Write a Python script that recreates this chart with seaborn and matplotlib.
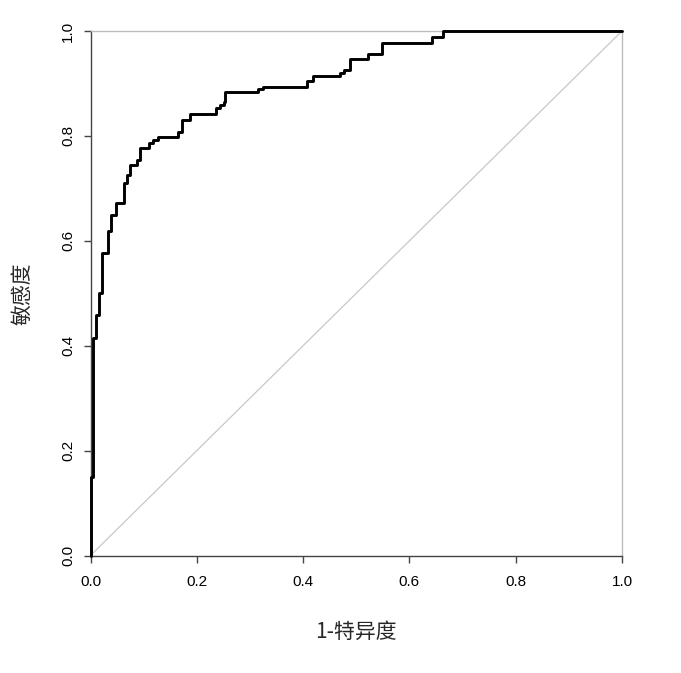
import matplotlib
matplotlib.use("Agg")
import matplotlib.pyplot as plt
import pandas as pd
import seaborn as sns

# ROC curve points (1-specificity, sensitivity)
fpr = [0.0, 0.0, 0.005, 0.010, 0.016, 0.021, 0.032, 0.038, 0.048, 0.063,
       0.069, 0.074, 0.087, 0.093, 0.111, 0.118, 0.127, 0.165, 0.172, 0.187,
       0.236, 0.244, 0.251, 0.253, 0.315, 0.324, 0.408, 0.418, 0.469, 0.477,
       0.488, 0.523, 0.548, 0.642, 0.664, 1.0]
tpr = [0.0, 0.149, 0.414, 0.459, 0.501, 0.577, 0.619, 0.650, 0.672, 0.711,
       0.725, 0.745, 0.754, 0.776, 0.787, 0.792, 0.798, 0.808, 0.830, 0.841,
       0.853, 0.859, 0.865, 0.884, 0.889, 0.894, 0.904, 0.914, 0.920, 0.926,
       0.947, 0.957, 0.977, 0.989, 1.0, 1.0]
ticks = [0.0, 0.2, 0.4, 0.6, 0.8, 1.0]
tick_labels = ["0.0", "0.2", "0.4", "0.6", "0.8", "1.0"]

sns.set_style("ticks")
plt.rcParams["font.family"] = ["Liberation Sans Narrow", "Liberation Sans", "DejaVu Sans"]

df = pd.DataFrame({"fpr": fpr, "tpr": tpr})

fig = plt.figure(figsize=(6.81, 6.73), dpi=100)
ax = fig.add_axes([90.5 / 681, 1 - 555.5 / 673, (622 - 90.5) / 681, (555.5 - 31) / 673])

# chance line
ax.plot([0, 1], [0, 1], color="#c8c8c8", linewidth=0.9, zorder=1)

sns.lineplot(data=df, x="fpr", y="tpr", ax=ax, sort=False, estimator=None,
             drawstyle="steps-post", color="black", linewidth=2.1, zorder=3)
for line in ax.lines:
    line.set_clip_on(False)

ax.set_xlim(0, 1)
ax.set_ylim(0, 1)
ax.set_xticks(ticks)
ax.set_xticklabels(tick_labels)
ax.set_yticks(ticks)
ax.set_yticklabels(tick_labels, rotation=90, va="center")

for side in ["left", "bottom"]:
    ax.spines[side].set_color("#444444")
    ax.spines[side].set_linewidth(1.0)
for side in ["top", "right"]:
    ax.spines[side].set_color("#bdbdbd")
    ax.spines[side].set_linewidth(1.0)

ax.tick_params(axis="both", direction="out", length=5, width=1.0,
               color="#444444", labelsize=11, labelcolor="black")
ax.tick_params(axis="x", pad=9)
ax.tick_params(axis="y", pad=6)

ax.set_xlabel("1-特异度", fontsize=15, family=["Noto Sans CJK SC", "DejaVu Sans"], labelpad=23)
ax.set_ylabel("敏感度", fontsize=15, family=["Noto Sans CJK SC", "DejaVu Sans"], labelpad=20)

fig.savefig("out.png", dpi=100)
